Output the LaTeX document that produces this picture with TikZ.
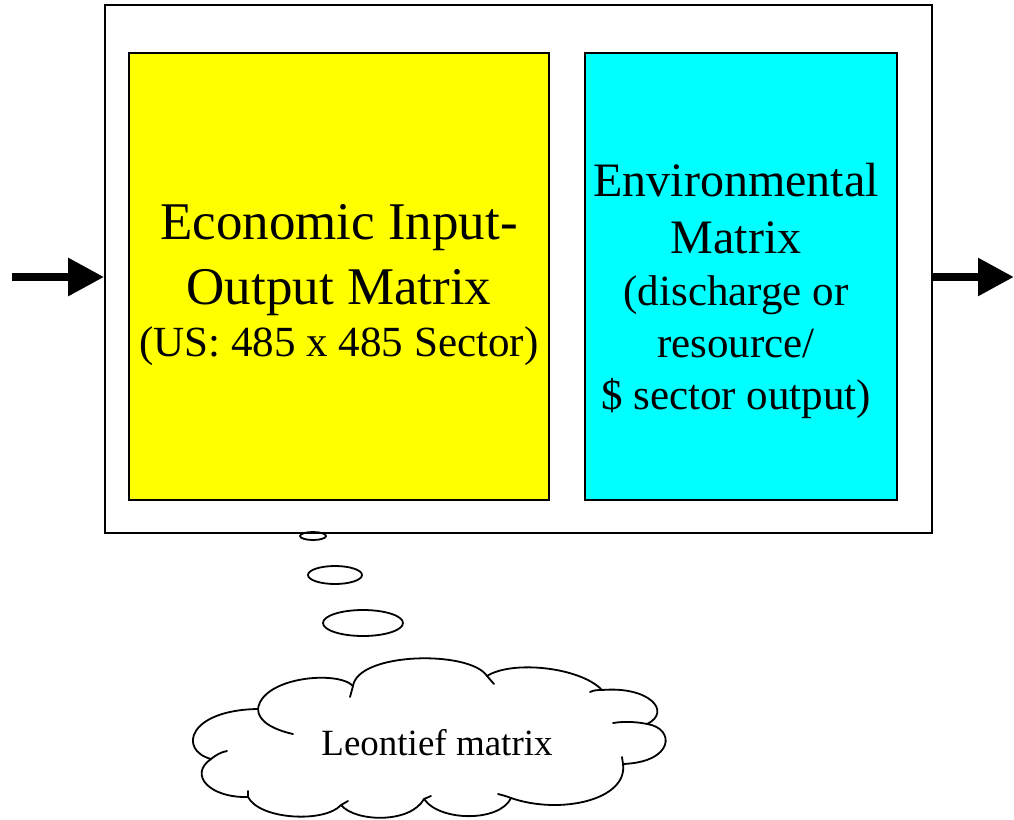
\documentclass[tikz,border=0pt]{standalone}
\usepackage{fontspec}
\setmainfont{Liberation Serif}
\usetikzlibrary{arrows.meta,shapes.geometric}
\definecolor{ioyellow}{RGB}{255,255,0}
\definecolor{envcyan}{RGB}{0,255,255}
\tikzset{
  frame/.style={draw=black, line width=1.6pt},
  matbox/.style={draw=black, line width=1.3pt},
  flow/.style={line width=8.5pt, -{Triangle[length=36pt,width=36pt]}},
  bubble/.style={draw=black, line width=1.8pt, ellipse, inner sep=0pt},
  cloudline/.style={draw=black, line width=1.8pt, line cap=round, line join=round},
  bigtext/.style={align=center, font=\fontsize{43}{52}\selectfont},
}
\begin{document}
\begin{tikzpicture}[x=1pt, y=-1pt]
  \useasboundingbox (0,0) rectangle (1014,819);
  % enclosing model box
  \node[frame, minimum width=827pt, minimum height=528pt, inner sep=0pt] (model) at (518.5,269) {};
  % economic input-output matrix
  \node[matbox, fill=ioyellow, minimum width=420pt, minimum height=447pt, inner sep=0pt] (eio) at (339,276.5) {};
  \node[bigtext] (eiotext) at (339,285) {{\fontsize{53}{52}\selectfont Economic Input-}\\[13pt]{\fontsize{53}{52}\selectfont Output Matrix}\\(US: 485 x 485 Sector)};
  % environmental matrix
  \node[matbox, fill=envcyan, minimum width=312pt, minimum height=447pt, inner sep=0pt] (env) at (741,276.5) {};
  \node[bigtext] (envtext) at (736,291) {{\fontsize{48}{52}\selectfont Environmental}\\[5pt]{\fontsize{48}{52}\selectfont Matrix}\\(discharge or\\resource/\\\$ sector output)};
  % input and output flows
  \coordinate (src) at (12,277);
  \coordinate (snk) at (1014,277);
  \draw[flow] (src) -- (src -| model.west);
  \draw[flow] (snk -| model.east) -- (snk);
  % thought bubbles
  \node[bubble, minimum width=26pt, minimum height=8pt] (b1) at (313,536) {};
  \node[bubble, minimum width=54pt, minimum height=18pt] (b2) at (335,575) {};
  \node[bubble, minimum width=80pt, minimum height=26pt] (b3) at (363,623) {};
  % cloud outline, puff by puff
  \coordinate (j1) at (258,709);
  \coordinate (j2) at (353,686);
  \coordinate (j3) at (487,676);
  \coordinate (j4) at (602,690);
  \coordinate (j5) at (647,724);
  \coordinate (j6) at (623,764);
  \coordinate (j7) at (511,798);
  \coordinate (j8) at (424,799);
  \coordinate (j9) at (341,805);
  \coordinate (j10) at (248,797);
  \coordinate (j11) at (211,759);
  \path[cloudline, fill=white]
    (j1) .. controls (262,677) and (338,670) .. (j2)
         .. controls (358,652) and (470,650) .. (j3)
         .. controls (512,660) and (580,667) .. (j4)
         .. controls (650,686) and (672,712) .. (j5)
         .. controls (675,728) and (675,762) .. (j6)
         .. controls (628,800) and (560,815) .. (j7)
         .. controls (500,822) and (440,822) .. (j8)
         .. controls (410,824) and (355,822) .. (j9)
         .. controls (325,823) and (260,820) .. (j10)
         .. controls (210,798) and (188,775) .. (j11)
         .. controls (178,750) and (188,710) .. (j1) -- cycle;
  % inner ends of the puffs
  \draw[cloudline] (j1) .. controls (258,722) and (275,730) .. (293,734);
  \draw[cloudline] (350,697) -- (j2);
  \draw[cloudline] (j3) -- (494,684);
  \draw[cloudline] (590,692) .. controls (594,690) and (598,690) .. (j4);
  \draw[cloudline] (613,723) .. controls (625,721) and (638,722) .. (j5);
  \draw[cloudline] (622,757) -- (j6);
  \draw[cloudline] (j7) .. controls (506,796) and (502,795) .. (498,794);
  \draw[cloudline] (j8) -- (431,796);
  \draw[cloudline] (j9) -- (348,801);
  \draw[cloudline] (j10) -- (248,791);
  \draw[cloudline] (j11) .. controls (216,755) and (221,752) .. (227,751);
  \node[font=\fontsize{37}{44}\selectfont] (leon) at (437,743) {Leontief matrix};
\end{tikzpicture}
\end{document}
